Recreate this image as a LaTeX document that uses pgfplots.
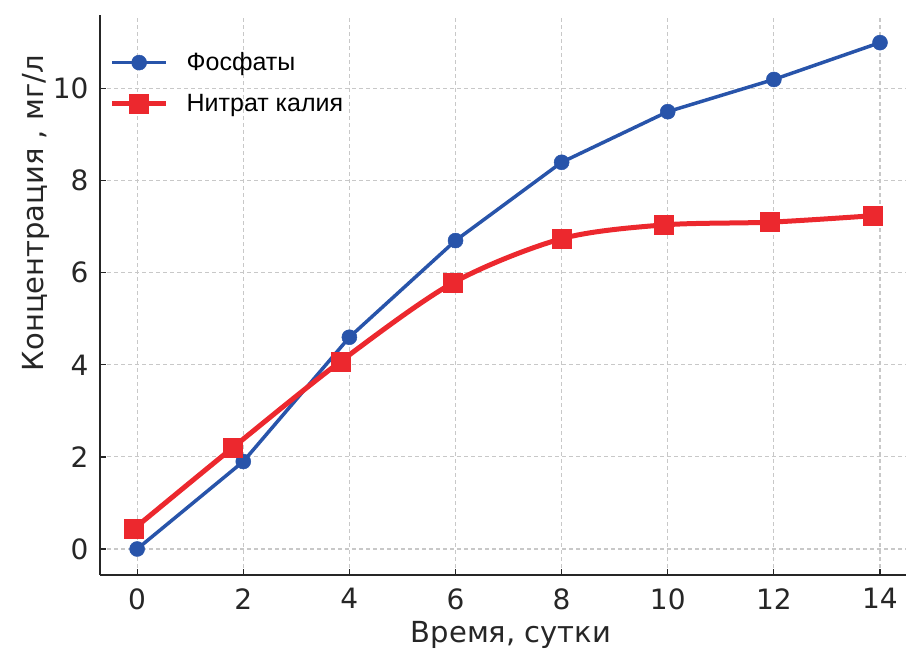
\documentclass[border=0pt]{standalone}
\usepackage{pgfplots}
\pgfplotsset{compat=1.18}
\usepackage{fontspec}
\setmainfont{DejaVu Sans}
\newfontfamily\legfont{Liberation Sans}
\definecolor{cblue}{RGB}{40,84,170}
\definecolor{cred}{RGB}{236,40,46}
\definecolor{cgrid}{RGB}{200,200,200}
\begin{document}
\begin{tikzpicture}
\path[use as bounding box] (0,0) rectangle (906pt,651pt);
\begin{axis}[
  at={(100pt,76pt)}, anchor=south west,
  scale only axis, width=806pt, height=560pt,
  xmin=-0.70, xmax=14.49, ymin=-0.565, ymax=11.6,
  axis lines=left, axis line style={-, line width=1.6pt, black!85},
  tick align=inside, major tick length=6pt,
  tick style={line width=1.2pt, black!85},
  xtick={0,2,...,14}, ytick={0,2,...,10},
  grid=major, grid style={cgrid, line width=1.1pt, dash pattern=on 4pt off 3pt},
  /pgf/number format/assume math mode=true,
  every tick label/.append style={font=\fontsize{28}{32}\selectfont, black!85},
  xticklabel style={yshift=-10pt},
  yticklabel style={xshift=-8pt},
  xlabel={Время, сутки}, ylabel={Концентрация , мг/л},
  label style={font=\fontsize{29}{34}\selectfont, black!85},
  xlabel style={at={(axis description cs:0.51,0)}, anchor=base, yshift=-67pt},
  ylabel style={at={(axis description cs:-0.08,0.646)}, anchor=center},
  legend style={at={(0.008,0.94)}, anchor=north west, draw=none, fill=none,
    font=\legfont\fontsize{25}{30}\selectfont, row sep=18pt},
  legend cell align=left,
  legend image code/.code={\draw[mark repeat=2,mark phase=2,#1] plot coordinates {(0pt,0pt) (27pt,0pt) (54pt,0pt)};},
]
\addplot[cblue, line width=3.5pt, mark=*, mark size=7.5pt, mark options={solid, fill=cblue, draw=cblue, line width=0.5pt}]
  coordinates {(0,0) (2,1.9) (4,4.6) (6,6.7) (8,8.4) (10,9.5) (12,10.2) (14,11.0)};
\addlegendentry{\hspace*{16pt}Фосфаты}
\addplot[cred, line width=5pt, smooth, tension=0.5, mark=square*, mark size=9.5pt, mark options={solid, fill=cred, draw=cred, line width=0.5pt}]
  coordinates {(-0.07,0.43) (1.8,2.2) (3.83,4.07) (5.95,5.78) (8.0,6.74) (9.93,7.04) (11.93,7.1) (13.87,7.24)};
\addlegendentry{\hspace*{16pt}Нитрат калия}
\end{axis}
\end{tikzpicture}
\end{document}
